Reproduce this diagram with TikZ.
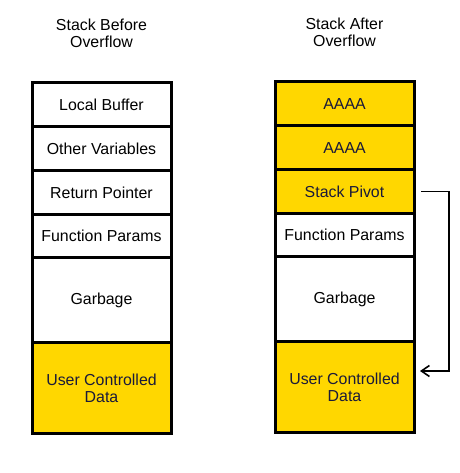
\documentclass[tikz,border=0pt]{standalone}
\usepackage{fontspec}
\setmainfont{Liberation Sans}
\usetikzlibrary{positioning, arrows.meta}
\definecolor{gold}{HTML}{FFD700}
\definecolor{ink}{HTML}{1A1A3A}

\begin{document}
\begin{tikzpicture}[x=1pt, y=1pt, node distance = 0pt,
    slot/.style={draw, line width=3pt, outer sep=0pt, inner sep=0pt,
      minimum width=139pt, minimum height=43.75pt, align=center,
      font=\fontsize{15.9}{17.5}\selectfont},
    filled/.style={slot, fill=gold, text=ink},
    title/.style={inner sep=0pt, align=center, font=\fontsize{15.9}{17.5}\selectfont}]
    \useasboundingbox (0,0) rectangle (459,473);

    % stack before overflow
    \node[slot] (lb) at (101.5,368.125) {Local Buffer};
    \node[slot, below=of lb] (ov) {Other Variables};
    \node[slot, below=of ov] (rp) {Return Pointer};
    \node[slot, below=of rp] (fp) {Function Params};
    \node[slot, below=of fp, minimum height=85pt] (gb) {Garbage};
    \node[filled, below=of gb, minimum height=91pt] (ud) {User Controlled\\Data};
    \node[title, above=35pt of lb] (tb) {Stack Before\\Overflow};

    % stack after overflow
    \node[filled] (a1) at (344.5,369.125) {AAAA};
    \node[filled, below=of a1] (a2) {AAAA};
    \node[filled, below=of a2] (sp) {Stack Pivot};
    \node[slot, below=of sp] (fp2) {Function Params};
    \node[slot, below=of fp2, minimum height=85pt] (gb2) {Garbage};
    \node[filled, below=of gb2, minimum height=91pt] (ud2) {User Controlled\\Data};
    \node[title, above=35pt of a1] (ta) {Stack After\\Overflow};

    \coordinate (hook) at ([xshift=6pt, yshift=16.5pt]ud2.east);
    \draw[line width=1.6pt, -{Straight Barb[length=8pt, width=11pt]}]
      ([xshift=7pt]sp.east) -- ++(28pt,0) |- (hook);
\end{tikzpicture}
\end{document}
